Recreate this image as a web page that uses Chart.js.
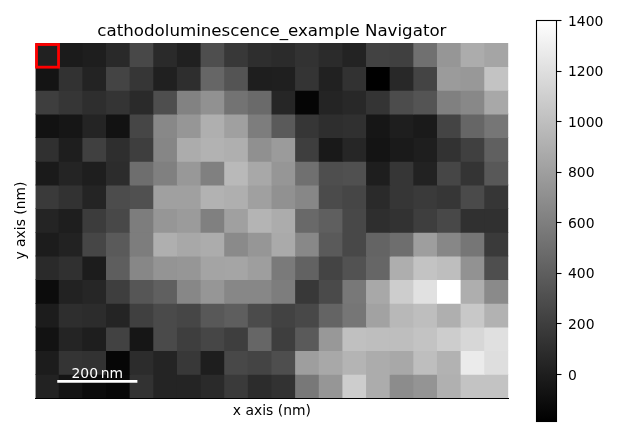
<!DOCTYPE html>
<html><head><meta charset="utf-8">
<style>html,body{margin:0;padding:0;background:#fff}canvas{display:block}</style>
<script src="https://cdn.jsdelivr.net/npm/chart.js@4/dist/chart.umd.min.js"></script>
</head><body><canvas id="c" width="640" height="436"></canvas>
<script>
const chartTitle = "cathodoluminescence_example Navigator";
const xLabel = "x axis (nm)";
const yLabel = "y axis (nm)";
const columns = [0,1,2,3,4,5,6,7,8,9,10,11,12,13,14,15,16,17,18,19];
const row00 = [19,-18,0,69,262,75,13,299,162,100,81,125,81,32,225,212,511,747,884,840];
const row01 = [-62,125,32,237,150,13,100,448,336,0,7,137,19,125,-186,63,237,778,759,1027];
const row02 = [200,150,100,137,75,299,623,716,529,473,50,-155,38,63,137,287,336,610,660,859];
const row03 = [-74,-49,38,-74,249,660,747,902,809,592,374,150,100,113,-49,0,-24,237,448,548];
const row04 = [113,0,212,100,200,647,884,921,902,710,778,200,-30,50,-62,-24,0,125,212,411];
const row05 = [-24,38,0,88,498,610,759,610,965,859,747,511,299,312,0,150,25,249,137,361];
const row06 = [175,125,38,287,312,809,809,921,902,809,716,654,280,249,75,150,175,150,274,150];
const row07 = [38,0,187,262,592,747,778,610,809,934,884,467,405,262,100,125,200,262,113,113];
const row08 = [-12,25,249,374,592,902,859,884,672,747,871,660,374,262,436,498,797,654,548,175];
const row09 = [75,113,-12,399,654,735,747,834,840,797,573,424,237,324,448,896,1027,996,722,299];
const row10 = [-111,25,50,200,349,411,654,747,654,654,592,162,274,560,859,1089,1214,1400,896,672];
const row11 = [-12,100,88,38,212,274,249,361,399,280,225,262,436,548,822,958,996,902,1058,921];
const row12 = [-74,38,0,225,-49,274,200,249,200,448,200,374,759,1008,996,996,1027,1089,1151,1207];
const row13 = [-12,137,125,-149,88,38,162,0,262,237,299,797,859,934,884,859,996,921,1276,1195];
const row14 = [25,-62,-111,-136,125,38,38,75,175,88,125,560,747,1089,884,685,735,909,1027,1027];
const rows = [row00,row01,row02,row03,row04,row05,row06,row07,row08,row09,row10,row11,row12,row13,row14];
const colorbarTicks = [0,200,400,600,800,1000,1200,1400];
const valueMin = -186, valueMax = 1400;
const nmPerColumn = 59;
const scaleBarNm = 200, scaleBarText = "200\u2009nm", scaleBarStartColumn = 0.92, scaleBarRowPos = 14.3;
const markerColumn = 0, markerRow = 0;
const FONT = "'DejaVu Sans'";

function grey(v){
  const g = Math.round(Math.max(0,Math.min(1,(v-valueMin)/(valueMax-valueMin)))*255);
  return `rgb(${g},${g},${g})`;
}
const datasets = rows.map(r => ({
  data: r.map(() => 1),
  backgroundColor: r.map(grey),
  borderWidth: 0,
  barPercentage: 1,
  categoryPercentage: 1,
  inflateAmount: 0.4,
  stack: 'image'
}));

const overlay = {
  id: 'overlay',
  afterLayout(chart){
    const s = chart.scales.cb;
    s.top = 20.5; s.bottom = 421.5; s.left = 556.5; s.right = 640;
    s.height = s.bottom - s.top;
    s.width = s.right - s.left;
    s.configure();
  },
  afterDraw(chart){
    const {ctx, scales:{x,y,cb}} = chart;
    // colour bar
    const top = cb.getPixelForValue(valueMax), bottom = cb.getPixelForValue(valueMin);
    const g = ctx.createLinearGradient(0,bottom,0,top);
    g.addColorStop(0,grey(valueMin)); g.addColorStop(1,grey(valueMax));
    ctx.save();
    ctx.fillStyle = g;
    ctx.fillRect(536.5,top,20,bottom-top);
    ctx.strokeStyle = '#000'; ctx.lineWidth = 1.1;
    ctx.strokeRect(536.5,top,20,bottom-top);
    // navigator marker
    const cw = (x.right-x.left)/columns.length, rh = (y.bottom-y.top)/rows.length;
    const mx = x.getPixelForValue(markerColumn)-cw/2, my = y.getPixelForValue(markerRow);
    ctx.strokeStyle = '#ff0000'; ctx.lineWidth = 2.8;
    ctx.strokeRect(mx+1,my+1.5,cw-1.6,rh-1);
    // scale bar
    const sx = x.left + scaleBarStartColumn*cw;
    const sl = scaleBarNm/nmPerColumn*cw;
    const sy = y.getPixelForValue(scaleBarRowPos);
    ctx.strokeStyle = '#fff'; ctx.lineWidth = 2.8;
    ctx.beginPath(); ctx.moveTo(sx,sy); ctx.lineTo(sx+sl,sy); ctx.stroke();
    ctx.fillStyle = '#fff'; ctx.font = `13.9px ${FONT}`;
    ctx.textAlign = 'center'; ctx.textBaseline = 'alphabetic';
    ctx.fillText(scaleBarText,sx+sl/2,sy-3.5);
    ctx.restore();
  }
};

new Chart(document.getElementById('c'),{
  type:'bar',
  data:{labels:columns,datasets},
  plugins:[overlay],
  options:{
    responsive:false, animation:false, devicePixelRatio:1,
    layout:{padding:{left:0,right:0,top:0,bottom:0}},
    plugins:{
      legend:{display:false},
      tooltip:{enabled:false},
      title:{display:true,text:chartTitle,color:'#000',fullSize:false,
        font:{family:FONT,size:16.67,weight:'normal',lineHeight:1.2},
        padding:{top:22,bottom:1}}
    },
    scales:{
      x:{
        stacked:true, offset:true,
        grid:{display:false,drawTicks:false},
        border:{display:true,color:'#000',width:1},
        ticks:{display:false},
        title:{display:true,text:xLabel,color:'#000',font:{family:FONT,size:13.9},padding:{top:2,bottom:16}},
        afterFit(s){s.height = 38;}
      },
      y:{
        stacked:true, reverse:true, min:0, max:rows.length,
        grid:{display:false,drawTicks:false},
        border:{display:false},
        ticks:{display:false},
        title:{display:true,text:yLabel,color:'#000',font:{family:FONT,size:13.9},padding:{top:13,bottom:0}},
        afterFit(s){s.width = 35.5;}
      },
      cb:{
        type:'linear', position:'right', min:valueMin, max:valueMax,
        afterBuildTicks(s){s.ticks = colorbarTicks.map(value=>({value}));},
        grid:{display:true,drawOnChartArea:false,drawTicks:true,tickLength:5,tickColor:'#000',tickWidth:1.1},
        border:{display:false},
        ticks:{color:'#000',font:{family:FONT,size:13.9},padding:6.5,labelOffset:1.5,maxRotation:0,autoSkip:false,
          callback:v=>String(v)},
        afterFit(s){s.width = 131.7;}
      }
    }
  }
});
</script></body></html>
